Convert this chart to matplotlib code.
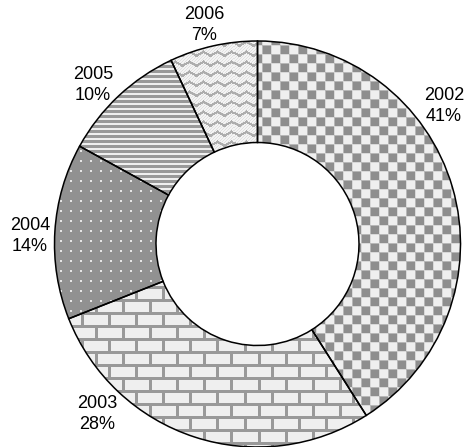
import numpy as np
import matplotlib
matplotlib.use("Agg")
import matplotlib.pyplot as plt

# Share of the total by year
years = ["2002", "2003", "2004", "2005", "2006"]
shares = [41, 28, 14, 10, 7]

W, H = 465, 447
DPI = 100

fig = plt.figure(figsize=(W / DPI, H / DPI), dpi=DPI)
ax = fig.add_axes([0, 0, 1, 1])

cx, cy = 257.5, H - 244
r_out = 203
ring = 0.5

wedges, _ = ax.pie(
    shares,
    radius=r_out,
    center=(cx, cy),
    startangle=90,
    counterclock=False,
    wedgeprops=dict(width=r_out * ring, facecolor="none",
                    edgecolor="black", linewidth=1.1, zorder=3),
    frame=True,
)
ax.set_aspect("equal")
ax.axis("off")

# Greyscale fill textures, built on the pixel grid
yy, xx = np.mgrid[0:H, 0:W].astype(float)
dark = np.array([0.56, 0.56, 0.56])
light = np.array([0.94, 0.94, 0.94])


def paint(mask, fg, bg):
    img = np.empty((H, W, 3))
    img[:] = bg
    img[mask] = fg
    return img


def checker():
    c = 9
    m = ((xx // c) + (yy // c)) % 2 == 0
    img = paint(m, dark, light)
    seam = ((xx % c) < 1) | ((yy % c) < 1)
    img[seam & ~m] = np.array([0.85, 0.85, 0.85])
    img[seam & m] = np.array([0.72, 0.72, 0.72])
    return img


def bricks():
    ph, pw, gap = 13, 27, 3
    row = yy // ph
    off = (row % 2) * (pw / 2)
    m = (yy % ph < gap) | ((xx + off) % pw < gap)
    return paint(m, np.array([0.6, 0.6, 0.6]), light)


def dots():
    p = 10
    m = ((xx % p) < 2) & ((yy % p) < 2)
    return paint(m, np.array([0.9, 0.9, 0.9]), np.array([0.57, 0.57, 0.57]))


def stripes():
    m = (yy % 5) < 2.5
    return paint(m, np.array([0.6, 0.6, 0.6]), light)


def waves():
    tri = np.abs(((xx / 14.0) % 1.0) - 0.5) * 2.0
    m = ((yy - 4.0 * tri) % 10.0) < 2.6
    bg = np.where(((xx + yy) % 3 == 0)[..., None],
                  np.array([0.88, 0.88, 0.88]), np.array([0.96, 0.96, 0.96]))
    img = bg.copy()
    img[m] = np.array([0.68, 0.68, 0.68])
    return img


textures = [checker(), bricks(), dots(), stripes(), waves()]

for w, tex in zip(wedges, textures):
    im = ax.imshow(tex, extent=(0, W, 0, H), origin="upper",
                   interpolation="nearest", zorder=1)
    im.set_clip_path(w)

# Category labels placed around the ring
label_pos = [(444, 106), (97, 414), (30, 236), (93, 85), (204, 25)]
for name, val, (px, py) in zip(years, shares, label_pos):
    ax.text(px, H - py, f"{name}\n{val}%", ha="center", va="center",
            multialignment="center", fontsize=13, family="Liberation Sans",
            linespacing=1.3, color="black", zorder=4)

ax.set_xlim(0, W)
ax.set_ylim(0, H)
fig.savefig("out.png", dpi=DPI)
